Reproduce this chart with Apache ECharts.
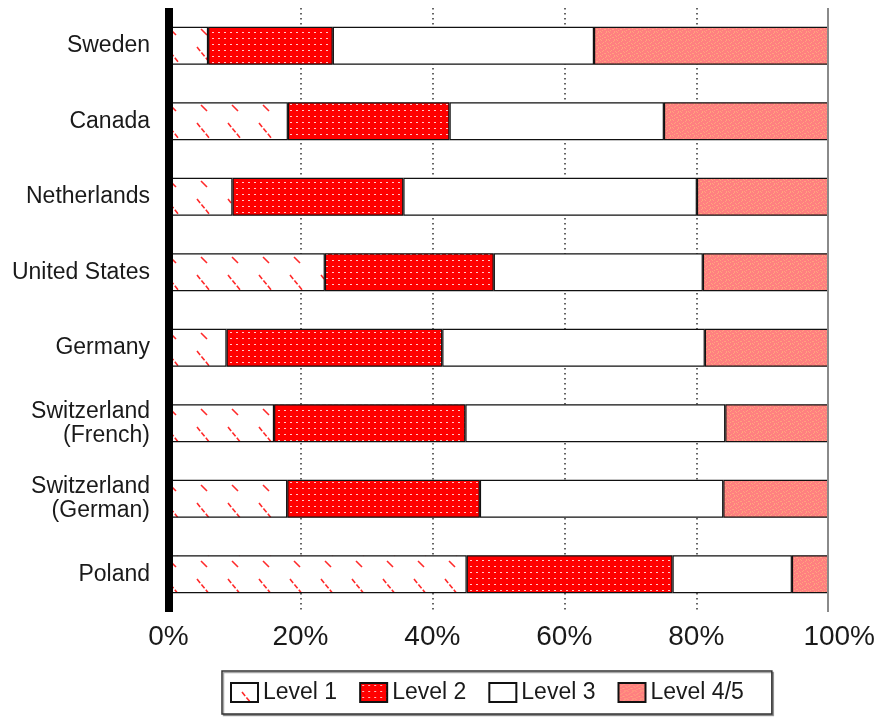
<!DOCTYPE html>
<html>
<head>
<meta charset="utf-8">
<title>Literacy levels by country</title>
<script src="https://cdn.jsdelivr.net/npm/echarts@6/dist/echarts.min.js"></script>
<style>
  html, body { margin: 0; padding: 0; background: #fff; }
  #chart { width: 878px; height: 717px; }
</style>
</head>
<body>
<div id="chart"></div>
<script>
// Countries, top to bottom
const categories = ['Sweden', 'Canada', 'Netherlands', 'United States', 'Germany',
  'Switzerland\n(French)', 'Switzerland\n(German)', 'Poland'];

// Share of population at each level (percent)
const level1  = [6.0, 18.1, 9.7, 23.7, 8.8, 16.0, 18.0, 45.2];
const level2  = [18.9, 24.5, 25.9, 25.6, 32.7, 29.0, 29.2, 31.2];
const level3  = [39.6, 32.5, 44.5, 31.7, 39.8, 39.4, 36.9, 18.1];
const level45 = [35.5, 24.9, 19.9, 19.0, 18.7, 15.6, 15.9, 5.5];

const seriesNames = ['Level 1', 'Level 2', 'Level 3', 'Level 4/5'];
const xTicks = [0, 20, 40, 60, 80, 100];

const FONT = '"Liberation Sans", Arial, sans-serif';

// Small canvas tiles used as repeating fill patterns
function makeTile(w, h, draw) {
  const c = document.createElement('canvas');
  c.width = w; c.height = h;
  const ctx = c.getContext('2d');
  draw(ctx);
  return { image: c, repeat: 'repeat' };
}

// Level 1: white with sparse red diagonal dashes
const hatchFill = makeTile(31, 38, ctx => {
  ctx.fillStyle = '#ffffff';
  ctx.fillRect(0, 0, 31, 38);
  ctx.strokeStyle = '#ff2a2a';
  ctx.lineWidth = 1.6;
  ctx.beginPath();
  ctx.moveTo(15, 29); ctx.lineTo(21, 35);
  ctx.stroke();
  ctx.setLineDash([5, 2]);
  ctx.beginPath();
  ctx.moveTo(11, 9); ctx.lineTo(24, 25);
  ctx.stroke();
});

// Level 2: solid red with a grid of pale dots
const dotFill = makeTile(6, 6, ctx => {
  ctx.fillStyle = '#ff0000';
  ctx.fillRect(0, 0, 6, 6);
  ctx.fillStyle = 'rgba(255,235,235,0.85)';
  ctx.fillRect(2, 2, 2, 1);
});

// Level 4/5: salmon with light speckles
const speckleFill = makeTile(8, 8, ctx => {
  ctx.fillStyle = '#ff8080';
  ctx.fillRect(0, 0, 8, 8);
  ctx.fillStyle = '#ffa47e';
  [[1,0],[5,1],[3,2],[7,3],[0,4],[4,5],[2,6],[6,7],[6,0],[2,3],[5,5],[0,7]]
    .forEach(([x, y]) => ctx.fillRect(x, y, 1, 1));
});

const fills = [hatchFill, dotFill, '#ffffff', speckleFill];
const values = [level1, level2, level3, level45];

const chart = echarts.init(document.getElementById('chart'), null, { renderer: 'canvas' });

chart.setOption({
  animation: false,
  backgroundColor: '#ffffff',
  textStyle: { fontFamily: FONT },
  grid: { left: 168.5, right: 49.5, top: 8, bottom: 105, containLabel: false },
  xAxis: {
    type: 'value',
    min: 0,
    max: 100,
    interval: 20,
    axisLine: { show: false },
    axisTick: { show: false },
    axisLabel: {
      margin: 11,
      fontSize: 28,
      color: '#1a1a1a',
      fontFamily: FONT,
      formatter: v => xTicks.indexOf(v) === xTicks.length - 1 ? '{r|' + v + '%}' : v + '%',
      rich: { r: { fontSize: 28, color: '#1a1a1a', fontFamily: FONT, padding: [0, 0, 0, 22] } }
    },
    splitLine: {
      show: true,
      showMinLine: false,
      showMaxLine: false,
      lineStyle: { color: '#333', width: 1.5, type: [1.5, 3.5] }
    }
  },
  yAxis: [
    {
      type: 'category',
      data: categories,
      inverse: true,
      offset: 2.5,
      z: 3,
      axisLine: { show: true, lineStyle: { color: '#000', width: 8, cap: 'butt' } },
      axisTick: { show: false },
      axisLabel: {
        margin: 16,
        fontSize: 23,
        lineHeight: 24,
        color: '#1a1a1a',
        fontFamily: FONT,
        align: 'right'
      },
      splitLine: { show: false }
    },
    {
      type: 'category',
      data: categories,
      inverse: true,
      position: 'right',
      z: 3,
      axisLine: { show: true, lineStyle: { color: '#8a8a8a', width: 2, cap: 'butt' } },
      axisTick: { show: false },
      axisLabel: { show: false },
      splitLine: { show: false }
    }
  ],
  legend: {
    data: seriesNames,
    left: 222,
    top: 671,
    orient: 'horizontal',
    icon: 'rect',
    itemWidth: 27,
    itemHeight: 19,
    itemGap: 22,
    padding: [10, 28, 10, 8],
    borderColor: '#333',
    borderWidth: 1.5,
    backgroundColor: '#fff',
    shadowColor: 'rgba(0,0,0,0.35)',
    shadowOffsetX: 1.5,
    shadowOffsetY: 1.5,
    textStyle: { fontSize: 23, color: '#1a1a1a', fontFamily: FONT }
  },
  series: seriesNames.map((name, i) => ({
    name: name,
    type: 'bar',
    stack: 'total',
    yAxisIndex: 0,
    barWidth: 38,
    data: values[i],
    itemStyle: {
      color: fills[i],
      borderColor: '#111',
      borderWidth: 1.2
    },
    emphasis: { disabled: true }
  }))
});
</script>
</body>
</html>
